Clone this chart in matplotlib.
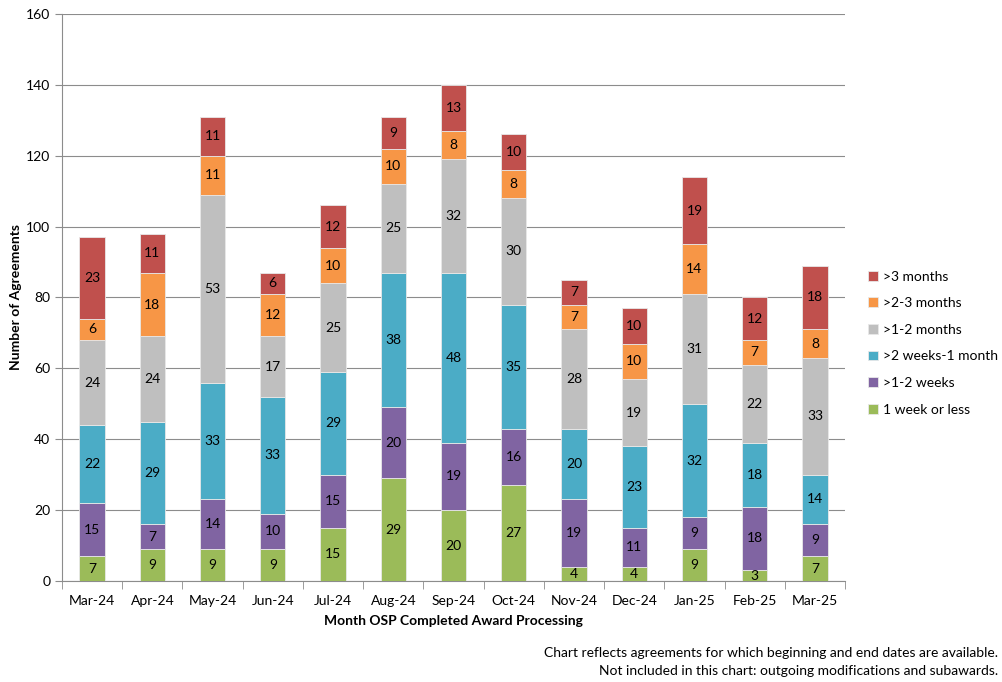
import numpy as np
import matplotlib.pyplot as plt

plt.rcParams['font.family'] = ['Lato', 'DejaVu Sans']

months = ['Mar-24', 'Apr-24', 'May-24', 'Jun-24', 'Jul-24', 'Aug-24', 'Sep-24',
          'Oct-24', 'Nov-24', 'Dec-24', 'Jan-25', 'Feb-25', 'Mar-25']

# stacked from bottom to top
week_or_less = [7, 9, 9, 9, 15, 29, 20, 27, 4, 4, 9, 3, 7]
one_two_weeks = [15, 7, 14, 10, 15, 20, 19, 16, 19, 11, 9, 18, 9]
two_weeks_month = [22, 29, 33, 33, 29, 38, 48, 35, 20, 23, 32, 18, 14]
one_two_months = [24, 24, 53, 17, 25, 25, 32, 30, 28, 19, 31, 22, 33]
two_three_months = [6, 18, 11, 12, 10, 10, 8, 8, 7, 10, 14, 7, 8]
over_three_months = [23, 11, 11, 6, 12, 9, 13, 10, 7, 10, 19, 12, 18]

series = [
    ('1 week or less', week_or_less, '#9BBB59'),
    ('>1-2 weeks', one_two_weeks, '#8064A2'),
    ('>2 weeks-1 month', two_weeks_month, '#4BACC6'),
    ('>1-2 months', one_two_months, '#BFBFBF'),
    ('>2-3 months', two_three_months, '#F79646'),
    ('>3 months', over_three_months, '#C0504D'),
]

fig = plt.figure(figsize=(10.03, 6.82), dpi=100)
ax = fig.add_axes([0.0618, 0.1481, 0.7807, 0.8314])

x = np.arange(len(months))
bottom = np.zeros(len(months))
handles = []
for name, vals, color in series:
    vals = np.array(vals)
    b = ax.bar(x, vals, 0.42, bottom=bottom, color=color, edgecolor='#E8E8E8',
               linewidth=0.6, label=name, zorder=3)
    handles.append(b)
    for xi, v, bt in zip(x, vals, bottom):
        ax.text(xi, bt + v / 2, str(v), ha='center', va='center', fontsize=10, color='black', zorder=4)
    bottom += vals

ax.set_xlim(-0.5, len(months) - 0.5)
ax.set_ylim(0, 160)
ax.set_yticks(range(0, 161, 20))
ax.yaxis.grid(True, color='#8C8C8C', linewidth=0.8, zorder=0)
ax.set_xticks(x)
ax.set_xticklabels(months, fontsize=10)
ax.set_xticks(np.arange(-0.5, len(months)), minor=True)
ax.tick_params(axis='x', which='major', length=0, pad=10)
ax.tick_params(axis='x', which='minor', length=6, color='#8C8C8C')
ax.tick_params(axis='y', length=5, color='#8C8C8C', labelsize=10)
for s in ['top', 'right']:
    ax.spines[s].set_visible(False)
ax.spines['left'].set_color('#8C8C8C')
ax.spines['bottom'].set_color('#8C8C8C')

ax.set_xlabel('Month OSP Completed Award Processing', fontsize=10, fontweight='bold', labelpad=6)
ax.set_ylabel('Number of Agreements', fontsize=10, fontweight='bold', labelpad=3)

leg = fig.legend(handles[::-1], [s[0] for s in series][::-1], loc='center left',
                 bbox_to_anchor=(0.853, 0.497), frameon=False, fontsize=10,
                 handlelength=0.7, handleheight=0.7, handletextpad=0.4, labelspacing=1.05)

fig.text(0.995, 0.036, 'Chart reflects agreements for which beginning and end dates are available.',
         ha='right', fontsize=10)
fig.text(0.995, 0.010, 'Not included in this chart: outgoing modifications and subawards.',
         ha='right', fontsize=10)

fig.savefig('out.png', dpi=100)
